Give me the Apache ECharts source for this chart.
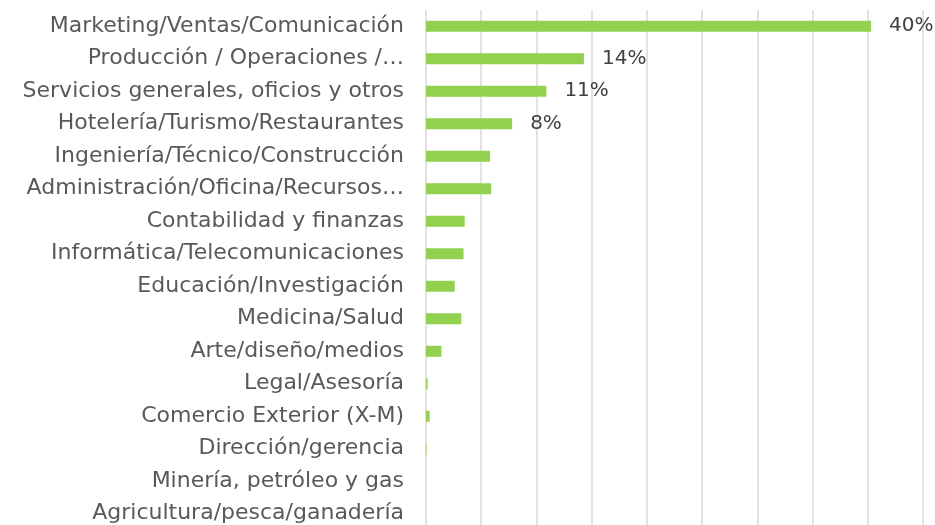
<!DOCTYPE html>
<html>
<head>
<meta charset="utf-8">
<script src="https://cdn.jsdelivr.net/npm/echarts@6/dist/echarts.min.js"></script>
<style>
  html, body { margin: 0; padding: 0; background: #fff; }
  #container { width: 935px; height: 525px; }
</style>
</head>
<body>
<div id="container"></div>
<script>
// categorías de arriba hacia abajo
const categorias = [
    'Marketing/Ventas/Comunicación',
    'Producción / Operaciones /…',
    'Servicios generales, oficios y otros',
    'Hotelería/Turismo/Restaurantes',
    'Ingeniería/Técnico/Construcción',
    'Administración/Oficina/Recursos…',
    'Contabilidad y finanzas',
    'Informática/Telecomunicaciones',
    'Educación/Investigación',
    'Medicina/Salud',
    'Arte/diseño/medios',
    'Legal/Asesoría',
    'Comercio Exterior (X-M)',
    'Dirección/gerencia',
    'Minería, petróleo y gas',
    'Agricultura/pesca/ganadería'
];
const porcentajes = [40.3, 14.3, 10.9, 7.8, 5.8, 5.9, 3.5, 3.4, 2.6, 3.2, 1.4, 0.15, 0.33, 0.05, 0, 0];
const etiquetas = ['40%', '14%', '11%', '8%'];

const chart = echarts.init(document.getElementById('container'), null, { renderer: 'canvas' });

const option = {
    animation: false,
    grid: {
        left: 426, right: 12, top: 10, height: 520,
        containLabel: false,
        outerBoundsMode: 'none'
    },
    xAxis: {
        type: 'value',
        min: 0,
        max: 45,
        interval: 5,
        axisLabel: { show: false },
        axisLine: { show: false },
        axisTick: { show: false },
        splitLine: { lineStyle: { color: '#d9d9d9', width: 1.5 } }
    },
    yAxis: {
        type: 'category',
        inverse: true,
        data: categorias,
        axisLine: { show: false },
        axisTick: { show: false },
        axisLabel: {
            margin: 22,
            fontFamily: 'DejaVu Sans',
            fontSize: 22,
            color: '#595959'
        }
    },
    series: [
        {
            type: 'bar',
            data: porcentajes,
            barWidth: 11,
            itemStyle: { color: '#92d050' },
            label: {
                show: true,
                position: 'right',
                distance: 18,
                fontFamily: 'DejaVu Sans',
                fontSize: 20,
                color: '#404040',
                formatter: (p) => etiquetas[p.dataIndex] || ''
            }
        }
    ]
};

chart.setOption(option);
</script>
</body>
</html>
